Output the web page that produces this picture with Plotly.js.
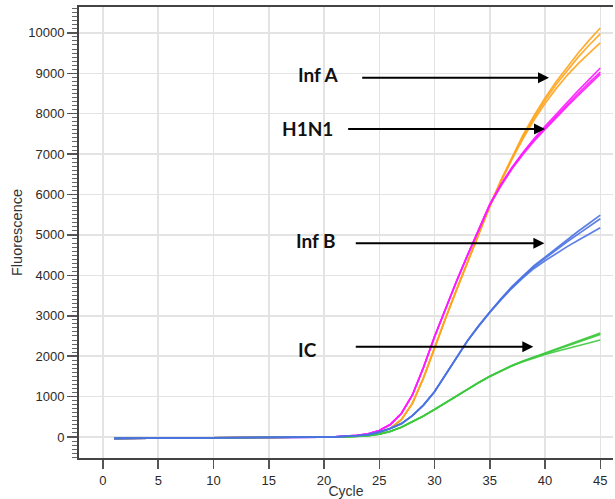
<!DOCTYPE html>
<html>
<head>
<meta charset="utf-8">
<script src="https://cdn.plot.ly/plotly-3.0.1.min.js"></script>
<style>html,body{margin:0;padding:0;background:#fff;overflow:hidden;}#chart{width:615px;height:499px;}</style>
</head>
<body>
<div id="chart"></div>
<script>
// Cycle numbers
var cycles = [1,2,3,4,5,6,7,8,9,10,11,12,13,14,15,16,17,18,19,20,21,22,23,24,25,26,27,28,29,30,31,32,33,34,35,36,37,38,39,40,41,42,43,44,45];

// Inf A (orange) replicates
var infA1 = [-35,-34,-32,-31,-29,-28,-26,-25,-23,-22,-20,-18,-16,-14,-12,-10,-8,-6,-4,-2,0,10,25,55,110,215,430,830,1460,2220,2940,3650,4350,5040,5720,6350,6930,7470,7950,8390,8790,9160,9500,9820,10120];
var infA2 = [-35,-34,-32,-31,-29,-28,-26,-25,-23,-22,-20,-18,-16,-14,-12,-10,-8,-6,-4,-2,0,10,25,55,110,215,430,830,1460,2220,2940,3650,4350,5030,5710,6330,6900,7430,7900,8330,8720,9070,9400,9700,9975];
var infA3 = [-35,-34,-32,-31,-29,-28,-26,-25,-23,-22,-20,-18,-16,-14,-12,-10,-8,-6,-4,-2,0,10,25,55,110,215,430,830,1460,2220,2940,3640,4340,5020,5700,6310,6870,7380,7840,8250,8620,8950,9240,9500,9750];

// H1N1 (magenta) replicates
var h1n1_1 = [-35,-34,-32,-31,-29,-28,-26,-25,-23,-22,-20,-18,-16,-14,-12,-10,-8,-6,-4,-2,5,18,40,80,160,310,580,1040,1720,2480,3190,3860,4510,5150,5760,6240,6670,7040,7380,7690,7990,8280,8570,8850,9130];
var h1n1_2 = [-35,-34,-32,-31,-29,-28,-26,-25,-23,-22,-20,-18,-16,-14,-12,-10,-8,-6,-4,-2,5,18,40,80,160,310,580,1040,1720,2480,3190,3860,4510,5150,5750,6230,6650,7020,7350,7650,7940,8220,8500,8770,9030];
var h1n1_3 = [-35,-34,-32,-31,-29,-28,-26,-25,-23,-22,-20,-18,-16,-14,-12,-10,-8,-6,-4,-2,5,18,40,80,160,310,580,1040,1720,2480,3190,3860,4500,5140,5740,6210,6630,6990,7320,7610,7900,8180,8450,8720,8980];

// Inf B (blue) replicates
var infB1 = [-35,-34,-32,-31,-29,-28,-26,-25,-23,-22,-20,-18,-16,-14,-12,-10,-8,-6,-4,-2,5,15,30,60,120,210,330,530,790,1120,1540,1980,2390,2760,3100,3420,3720,3990,4240,4450,4670,4880,5090,5290,5490];
var infB2 = [-35,-34,-32,-31,-29,-28,-26,-25,-23,-22,-20,-18,-16,-14,-12,-10,-8,-6,-4,-2,5,15,30,60,120,210,330,530,790,1120,1540,1980,2390,2750,3090,3400,3700,3970,4210,4420,4630,4830,5020,5210,5400];
var infB3 = [-35,-34,-32,-31,-29,-28,-26,-25,-23,-22,-20,-18,-16,-14,-12,-10,-8,-6,-4,-2,5,15,30,60,120,210,330,530,790,1120,1540,1970,2380,2740,3080,3390,3680,3940,4170,4360,4540,4710,4870,5030,5180];

// IC (green) replicates
var ic1 = [-35,-34,-32,-31,-29,-28,-26,-25,-23,-22,-20,-18,-16,-14,-12,-10,-8,-6,-4,-2,0,5,15,35,70,140,240,370,520,680,850,1020,1190,1350,1500,1640,1770,1880,1980,2070,2170,2270,2370,2470,2570];
var ic2 = [-35,-34,-32,-31,-29,-28,-26,-25,-23,-22,-20,-18,-16,-14,-12,-10,-8,-6,-4,-2,0,5,15,35,70,140,240,370,520,680,850,1020,1190,1350,1500,1640,1765,1875,1975,2065,2160,2255,2350,2445,2540];
var ic3 = [-35,-34,-32,-31,-29,-28,-26,-25,-23,-22,-20,-18,-16,-14,-12,-10,-8,-6,-4,-2,0,5,15,35,70,140,240,370,520,680,850,1020,1185,1345,1495,1635,1760,1865,1960,2040,2115,2190,2260,2330,2400];

// Axis ticks
var xTickVals = [0,5,10,15,20,25,30,35,40,45];
var xTickText = ["0","5","10","15","20","25","30","35","40","45"];
var yTickVals = [0,1000,2000,3000,4000,5000,6000,7000,8000,9000,10000];
var yTickText = ["0","1000","2000","3000","4000","5000","6000","7000","8000","9000","10000"];

// Labels
var groupNames = ["Inf A","H1N1","Inf B","IC"];

var ORANGE = "#FFA41C", MAGENTA = "#FF1AFF", BLUE = "#4A72E2", GREEN = "#3DC93D";

function tr(y, color, name) {
  return {x: cycles, y: y, type: "scatter", mode: "lines", name: name,
          line: {color: color, width: 1.7}, opacity: 0.9, hoverinfo: "skip"};
}

var data = [
  tr(infA1, ORANGE, groupNames[0]), tr(infA2, ORANGE, groupNames[0]), tr(infA3, ORANGE, groupNames[0]),
  tr(h1n1_1, MAGENTA, groupNames[1]), tr(h1n1_2, MAGENTA, groupNames[1]), tr(h1n1_3, MAGENTA, groupNames[1]),
  tr(ic1, GREEN, groupNames[3]), tr(ic2, GREEN, groupNames[3]), tr(ic3, GREEN, groupNames[3]),
  tr(infB1, BLUE, groupNames[2]), tr(infB2, BLUE, groupNames[2]), tr(infB3, BLUE, groupNames[2])
];

var labelFont = {family: "Lato, 'Open Sans', sans-serif", size: 19, color: "#111"};
function label(text, x, y) {
  return {text: "<b>" + text + "</b>", x: x, y: y, xref: "x", yref: "y", showarrow: false, font: labelFont, xanchor: "center", yanchor: "middle"};
}
function arrow(x0, x1, y) {
  return {text: "", x: x1, y: y, ax: x0, ay: y, xref: "x", yref: "y", axref: "x", ayref: "y",
          showarrow: true, arrowhead: 2, arrowsize: 1.1, arrowwidth: 2, arrowcolor: "#000"};
}

var layout = {
  width: 615, height: 499,
  margin: {l: 79, r: 2, t: 7, b: 41},
  paper_bgcolor: "#fff", plot_bgcolor: "#fff",
  showlegend: false,
  font: {family: "'Liberation Sans', Arial, sans-serif", color: "#333"},
  xaxis: {
    range: [-2.17, 46.15], tickmode: "array", tickvals: xTickVals, ticktext: xTickText,
    ticks: "outside", ticklen: 9, tickwidth: 1.5, tickcolor: "#555",
    showline: true, linecolor: "#444", linewidth: 2, mirror: true,
    showgrid: true, gridcolor: "#e3e3e3", gridwidth: 1.5, zeroline: false,
    tickfont: {size: 13, color: "#2a2a2a"},
    title: {text: "Cycle", font: {size: 14, color: "#333"}, standoff: 2}
  },
  yaxis: {
    range: [-520, 10640], tickmode: "array", tickvals: yTickVals, ticktext: yTickText,
    ticks: "outside", ticklen: 10, tickwidth: 1.5, tickcolor: "#555",
    minor: {dtick: 100, ticks: "outside", ticklen: 5, tickwidth: 1, tickcolor: "#666", showgrid: false},
    showline: true, linecolor: "#444", linewidth: 2, mirror: false,
    showgrid: true, gridcolor: "#e3e3e3", gridwidth: 1.5, zeroline: false,
    tickfont: {size: 13, color: "#2a2a2a"},
    title: {text: "Fluorescence", font: {size: 14.5, color: "#333"}, standoff: 2}
  },
  annotations: [
    label(groupNames[0], 19.46, 8958), arrow(23.32, 40.36, 8891),
    label(groupNames[1], 18.55, 7622), arrow(22.05, 40.0, 7622),
    label(groupNames[2], 19.28, 4850), arrow(22.74, 39.94, 4793),
    label(groupNames[3], 18.55, 2165), arrow(22.74, 38.94, 2235)
  ]
};

Plotly.newPlot("chart", data, layout, {staticPlot: true, displayModeBar: false});
</script>
</body>
</html>
